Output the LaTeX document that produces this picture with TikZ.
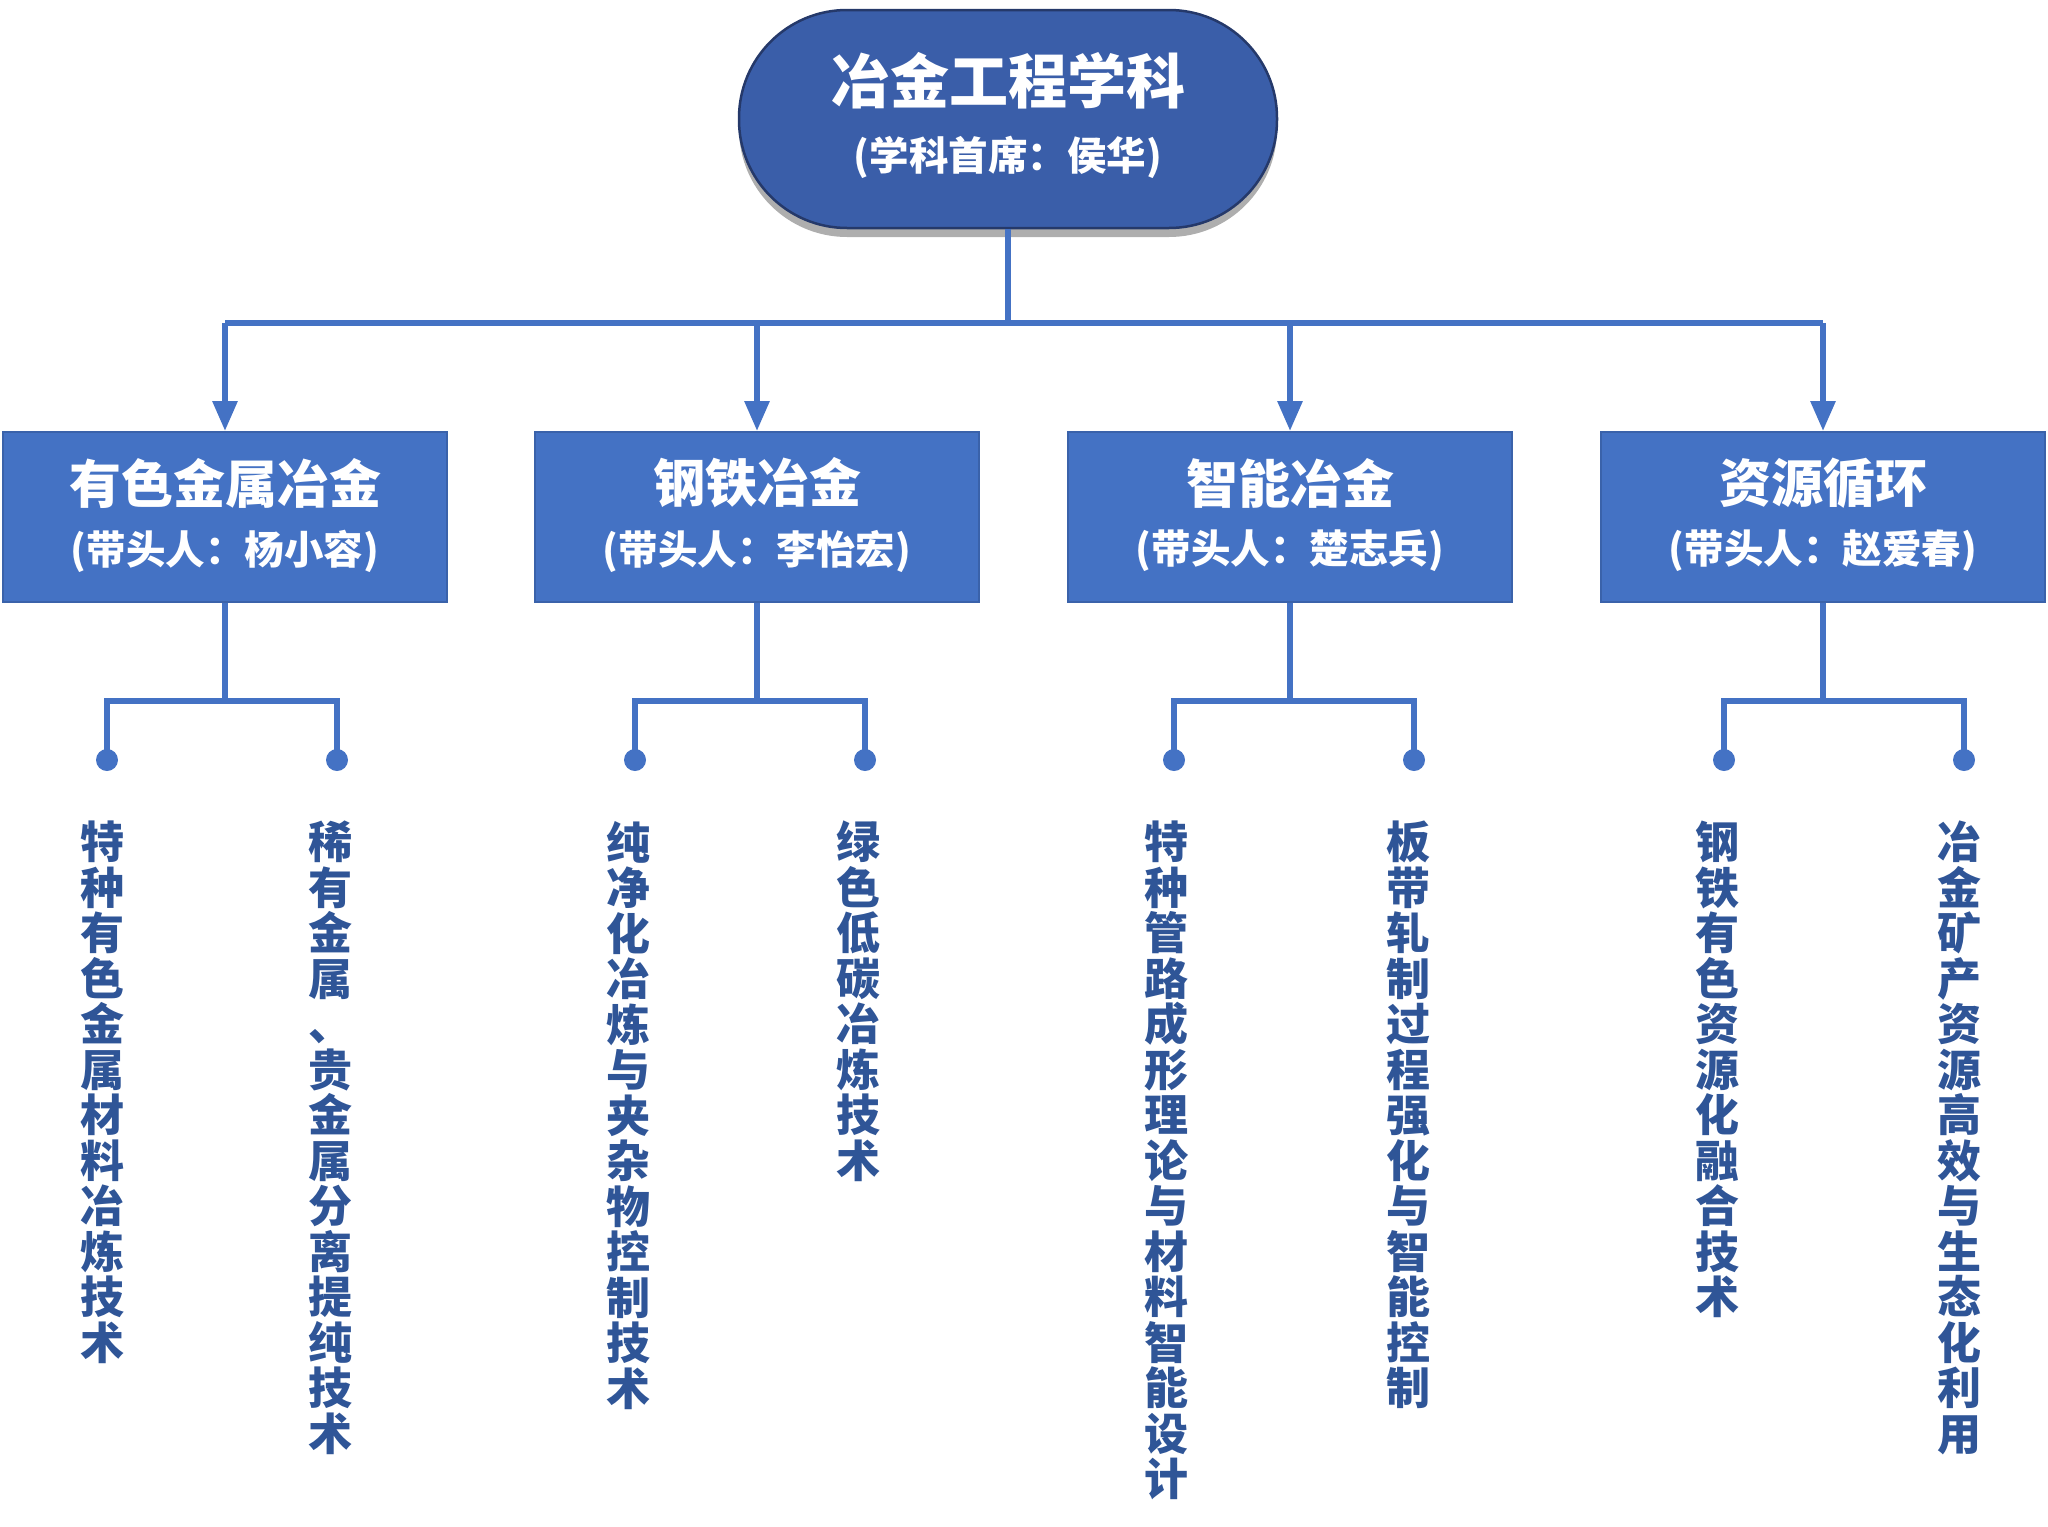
\documentclass[tikz,border=0pt]{standalone}
\usepackage{fontspec}
\newfontfamily\cjk{Noto Sans CJK SC}
\usetikzlibrary{arrows.meta,shadows}
\definecolor{topfill}{HTML}{3A5EA9}
\definecolor{topdraw}{HTML}{25396A}
\definecolor{boxfill}{HTML}{4472C4}
\definecolor{boxdraw}{HTML}{3A62AA}
\definecolor{linec}{HTML}{4472C4}
\definecolor{vtextc}{HTML}{2F5597}
\begin{document}
\begin{tikzpicture}[x=1pt,y=-1pt,
  rootbox/.style={draw=topdraw,line width=2.5pt,fill=topfill,rounded corners=108pt,
    minimum width=538pt,minimum height=218pt,inner sep=0pt,
    drop shadow={shadow xshift=0pt,shadow yshift=-9pt,opacity=0.45,fill=black!70}},
  catbox/.style={draw=boxdraw,line width=2pt,fill=boxfill,minimum width=444pt,minimum height=170pt,inner sep=0pt},
  bigtitle/.style={text=white,font=\cjk\bfseries\fontsize{59}{64}\selectfont,inner sep=0pt},
  cattitle/.style={text=white,font=\cjk\bfseries\fontsize{52}{58}\selectfont,inner sep=0pt},
  subtitle/.style={text=white,font=\cjk\bfseries\fontsize{39.5}{44}\selectfont,inner sep=0pt},
  conn/.style={draw=linec,line width=6pt},
  arr/.style={conn,-{Triangle[width=24pt,length=30pt]}},
  dot/.style={circle,fill=linec,minimum size=22pt,inner sep=0pt},
  vtext/.style={text=vtextc,font=\cjk\bfseries\fontsize{44}{45.5}\selectfont,align=center,inner sep=0pt,anchor=north}
]
\useasboundingbox (0,0) rectangle (2048,1526);

% root
\node[rootbox] (top) at (1008,119) {};
\node[bigtitle] (toptitle) at (1008,81) {冶金工程学科};
\node[subtitle] (topsub) at (1008,157) {(学科首席：侯华)};

% category boxes
\node[catbox] (b1) at (225,517) {};
\node[catbox] (b2) at (757,517) {};
\node[catbox] (b3) at (1290,517) {};
\node[catbox] (b4) at (1823,517) {};
\node[cattitle] (b1t) at (225,483) {有色金属冶金};
\node[subtitle] (b1s) at (225,551) {(带头人：杨小容)};
\node[cattitle] (b2t) at (757,483) {钢铁冶金};
\node[subtitle] (b2s) at (757,551) {(带头人：李怡宏)};
\node[cattitle] (b3t) at (1290,483) {智能冶金};
\node[subtitle] (b3s) at (1290,551) {(带头人：楚志兵)};
\node[cattitle] (b4t) at (1823,483) {资源循环};
\node[subtitle] (b4s) at (1823,551) {(带头人：赵爱春)};

% top connectors
\coordinate (hub) at (1008,323);
\draw[conn] (top.south) -- (hub);
\draw[conn] (b1.north |- hub) -- (b4.north |- hub);
\foreach \b in {b1,b2,b3,b4}{
  \draw[arr] (\b.north |- hub) -- (\b.north);
}

% dots
\node[dot] (d11) at (107,760) {};
\node[dot] (d12) at (337,760) {};
\node[dot] (d21) at (635,760) {};
\node[dot] (d22) at (865,760) {};
\node[dot] (d31) at (1174,760) {};
\node[dot] (d32) at (1414,760) {};
\node[dot] (d41) at (1724,760) {};
\node[dot] (d42) at (1964,760) {};

% sub connectors
\foreach \b/\l/\r in {b1/d11/d12,b2/d21/d22,b3/d31/d32,b4/d41/d42}{
  \coordinate (j\b) at (\b.south |- 0,701);
  \draw[conn] (\b.south) -- (j\b);
  \draw[conn,line join=miter] (\l.center) |- (j\b) -| (\r.center);
}

% vertical texts
\node[vtext] (t11) at (102,821) {特\\种\\有\\色\\金\\属\\材\\料\\冶\\炼\\技\\术};
\node[vtext] (t12) at (330,821) {稀\\有\\金\\属\\、\\贵\\金\\属\\分\\离\\提\\纯\\技\\术};
\node[vtext] (t21) at (628,821) {纯\\净\\化\\冶\\炼\\与\\夹\\杂\\物\\控\\制\\技\\术};
\node[vtext] (t22) at (858,821) {绿\\色\\低\\碳\\冶\\炼\\技\\术};
\node[vtext] (t31) at (1166,821) {特\\种\\管\\路\\成\\形\\理\\论\\与\\材\\料\\智\\能\\设\\计};
\node[vtext] (t32) at (1408,821) {板\\带\\轧\\制\\过\\程\\强\\化\\与\\智\\能\\控\\制};
\node[vtext] (t41) at (1717,821) {钢\\铁\\有\\色\\资\\源\\化\\融\\合\\技\\术};
\node[vtext] (t42) at (1959,821) {冶\\金\\矿\\产\\资\\源\\高\\效\\与\\生\\态\\化\\利\\用};
\end{tikzpicture}
\end{document}
